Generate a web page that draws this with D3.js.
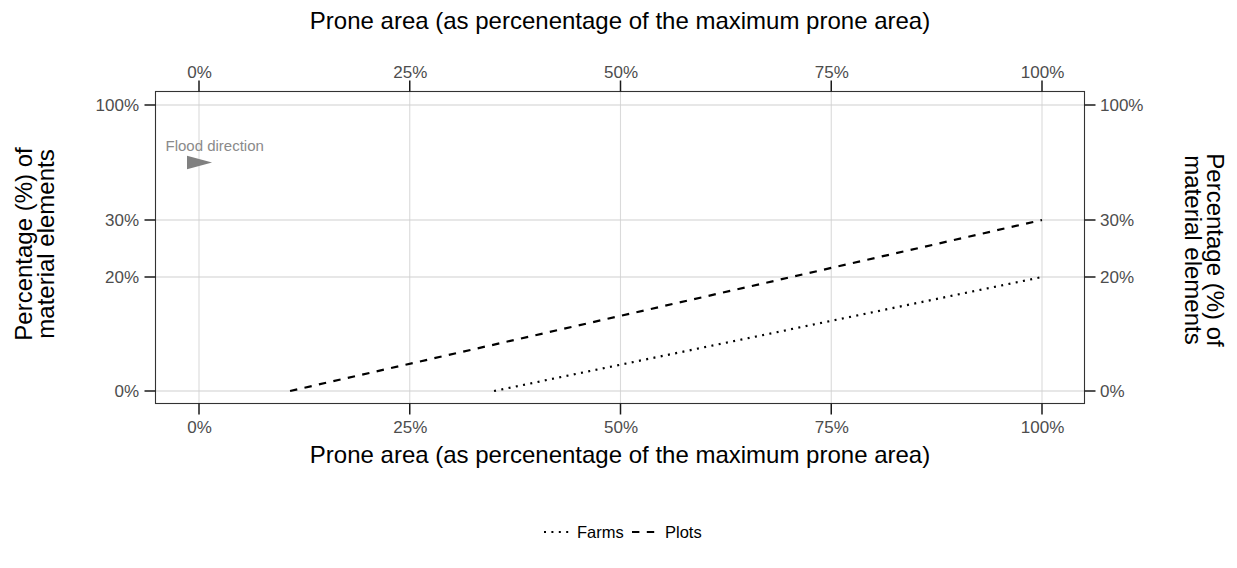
<!DOCTYPE html>
<html><head><meta charset="utf-8">
<script src="https://cdn.jsdelivr.net/npm/d3@7"></script>
<style>
body{margin:0;background:#fff;}
text{font-family:"Liberation Sans",Arial,Helvetica,sans-serif;}
</style></head>
<body><svg id="c" width="1237" height="568"></svg>
<script>
const xTicks = [0, 0.25, 0.5, 0.75, 1];
const yTicks = [0, 0.2, 0.3, 1];
const seriesNames = ["Farms", "Plots"];
const farmsX = [0.35, 1.0];
const farmsY = [0, 0.2];
const plotsX = [0.108, 1.0];
const plotsY = [0, 0.3];
const xTitle = "Prone area (as percenentage of the maximum prone area)";
const yTitleLines = ["Percentage (%) of", "material elements"];
const arrowLabel = "Flood direction";

const svg = d3.select("#c");
const panel = {l:155.5, r:1084.5, t:91.5, b:403.5};
const x = d3.scaleLinear().domain([0,1]).range([199,1042]);
const y = d3.scaleLinear().domain([0,0.3,1]).range([391,220,105]);
const pct = d => Math.round(d*100)+"%";
const dotted = "2,5.4", dashed = "7.4,7.4";
const TL = 11;

// grid
const g = svg.append("g");
g.selectAll(".gx").data(xTicks).join("line")
  .attr("x1",d=>x(d)).attr("x2",d=>x(d)).attr("y1",panel.t).attr("y2",panel.b)
  .attr("stroke","#dadada").attr("stroke-width",1.1);
g.selectAll(".gy").data(yTicks).join("line")
  .attr("y1",d=>y(d)).attr("y2",d=>y(d)).attr("x1",panel.l).attr("x2",panel.r)
  .attr("stroke","#cfcfcf").attr("stroke-width",1.1);

// lines
const line = d3.line().x(d=>x(d[0])).y(d=>y(d[1]));
const series = [
  {name:seriesNames[0], pts: farmsX.map((v,i)=>[v,farmsY[i]]), dash:dotted},
  {name:seriesNames[1], pts: plotsX.map((v,i)=>[v,plotsY[i]]), dash:dashed}
];
svg.selectAll(".ln").data(series).join("path")
  .attr("d",d=>line(d.pts)).attr("fill","none").attr("stroke","#000")
  .attr("stroke-width",2.2).attr("stroke-dasharray",d=>d.dash);

// arrow annotation
svg.append("path")
  .attr("d",`M${x(-0.0142)},${155.7} L${x(0.0155)},${162.5} L${x(-0.0142)},${169.3} Z`)
  .attr("fill","#808080");
svg.append("text").attr("x",x(0.0186)).attr("y",151).attr("text-anchor","middle")
  .attr("font-size",15).attr("fill","#8a8a8a").text(arrowLabel);

// panel border
svg.append("rect").attr("x",panel.l).attr("y",panel.t)
  .attr("width",panel.r-panel.l).attr("height",panel.b-panel.t)
  .attr("fill","none").attr("stroke","#333").attr("stroke-width",1.1);

// tick marks
const tk = svg.append("g").attr("stroke","#1a1a1a").attr("stroke-width",1.5);
tk.selectAll(".tb").data(xTicks).join("line")
  .attr("x1",d=>x(d)).attr("x2",d=>x(d)).attr("y1",panel.b).attr("y2",panel.b+TL);
tk.selectAll(".tt").data(xTicks).join("line")
  .attr("x1",d=>x(d)).attr("x2",d=>x(d)).attr("y1",panel.t).attr("y2",panel.t-TL);
tk.selectAll(".tl").data(yTicks).join("line")
  .attr("y1",d=>y(d)).attr("y2",d=>y(d)).attr("x1",panel.l).attr("x2",panel.l-TL);
tk.selectAll(".tr").data(yTicks).join("line")
  .attr("y1",d=>y(d)).attr("y2",d=>y(d)).attr("x1",panel.r).attr("x2",panel.r+TL);

// axes (labels)
function styleAxis(sel){
  sel.select(".domain").remove();
  sel.selectAll(".tick line").remove();
  sel.selectAll(".tick text").attr("fill","#4d4d4d").attr("font-size",17)
    .attr("font-family","Liberation Sans, Arial, sans-serif");
}
svg.append("g").attr("transform",`translate(0,${panel.b})`)
  .call(d3.axisBottom(x).tickValues(xTicks).tickFormat(pct).tickSize(0).tickPadding(TL+6)).call(styleAxis);
svg.append("g").attr("transform",`translate(0,${panel.t})`)
  .call(d3.axisTop(x).tickValues(xTicks).tickFormat(pct).tickSize(0).tickPadding(TL+2.5)).call(styleAxis);
svg.append("g").attr("transform",`translate(${panel.l},0)`)
  .call(d3.axisLeft(y).tickValues(yTicks).tickFormat(pct).tickSize(0).tickPadding(TL+5.5)).call(styleAxis);
svg.append("g").attr("transform",`translate(${panel.r},0)`)
  .call(d3.axisRight(y).tickValues(yTicks).tickFormat(pct).tickSize(0).tickPadding(TL+4.5)).call(styleAxis);

// titles
const cx = (panel.l+panel.r)/2;
svg.append("text").attr("x",cx).attr("y",29).attr("text-anchor","middle")
  .attr("font-size",24).attr("fill","#000").text(xTitle);
svg.append("text").attr("x",cx).attr("y",463).attr("text-anchor","middle")
  .attr("font-size",24).attr("fill","#000").text(xTitle);
const lt = svg.append("text").attr("transform",`translate(32,244) rotate(-90)`)
  .attr("text-anchor","middle").attr("font-size",24).attr("fill","#000");
lt.append("tspan").attr("x",0).attr("y",0).text(yTitleLines[0]);
lt.append("tspan").attr("x",0).attr("y",21.6).text(yTitleLines[1]);
const rt = svg.append("text").attr("transform",`translate(1207,250) rotate(90)`)
  .attr("text-anchor","middle").attr("font-size",24).attr("fill","#000");
rt.append("tspan").attr("x",0).attr("y",0).text(yTitleLines[0]);
rt.append("tspan").attr("x",0).attr("y",21.6).text(yTitleLines[1]);

// legend
const leg = svg.append("g");
const ly = 532;
const items = [{name:seriesNames[0],x0:544,dash:dotted},{name:seriesNames[1],x0:632,dash:dashed}];
items.forEach(it=>{
  leg.append("line").attr("x1",it.x0).attr("x2",it.x0+28).attr("y1",ly).attr("y2",ly)
    .attr("stroke","#000").attr("stroke-width",2.2).attr("stroke-dasharray",it.dash);
  leg.append("text").attr("x",it.x0+33).attr("y",ly+6).attr("font-size",16.5).attr("fill","#000").text(it.name);
});
</script></body></html>
